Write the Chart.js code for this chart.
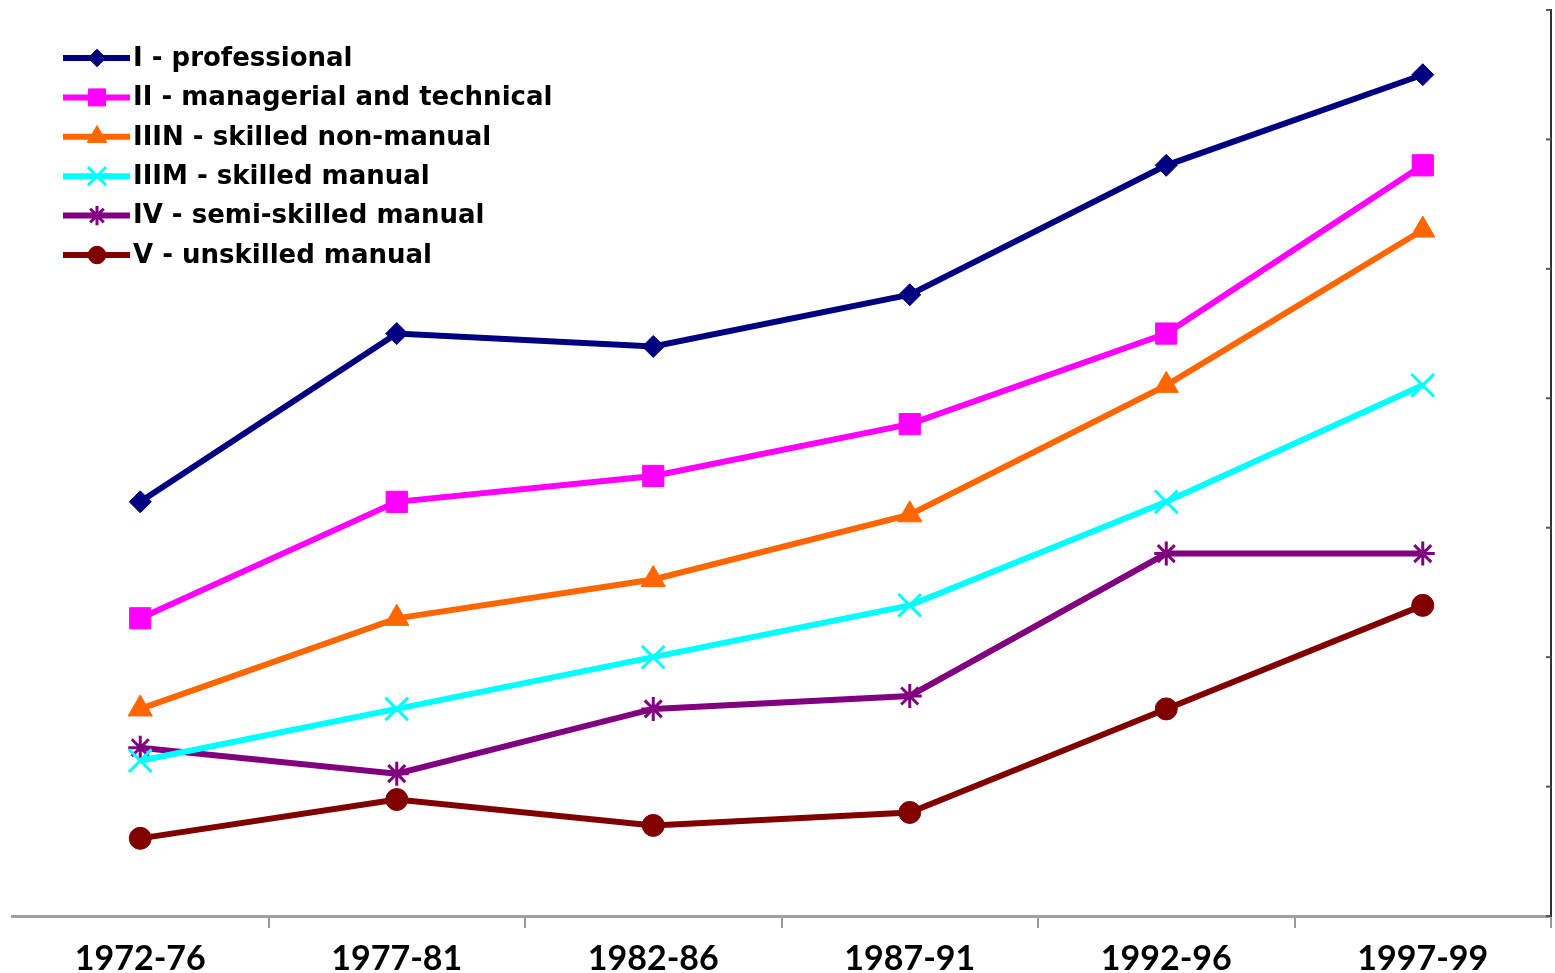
<!DOCTYPE html>
<html>
<head>
<meta charset="utf-8">
<script src="https://cdn.jsdelivr.net/npm/chart.js@4/dist/chart.umd.min.js"></script>
<style>
  body { margin: 0; background: #fff; }
  #wrap { width: 1555px; height: 973px; }
</style>
</head>
<body>
<div id="wrap"><canvas id="chart" width="1555" height="973"></canvas></div>
<script>
// periods on the x axis
const periods = ["1972-76", "1977-81", "1982-86", "1987-91", "1992-96", "1997-99"];

// series names
const classNames = [
  "I - professional",
  "II - managerial and technical",
  "IIIN - skilled non-manual",
  "IIIM - skilled manual",
  "IV - semi-skilled manual",
  "V - unskilled manual"
];

// values (axis has no labels, units = tick steps)
const professional = [3.2, 4.5, 4.4, 4.8, 5.8, 6.5];
const managerial   = [2.3, 3.2, 3.4, 3.8, 4.5, 5.8];
const skilledNonManual = [1.6, 2.3, 2.6, 3.1, 4.1, 5.3];
const skilledManual    = [1.2, 1.6, 2.0, 2.4, 3.2, 4.1];
const semiSkilled  = [1.3, 1.1, 1.6, 1.7, 2.8, 2.8];
const unskilled    = [0.6, 0.9, 0.7, 0.8, 1.6, 2.4];

const yTicks = [0, 1, 2, 3, 4, 5, 6, 7];

const seriesValues = [professional, managerial, skilledNonManual, skilledManual, semiSkilled, unskilled];
const colors = ["#000080", "#ff00ff", "#ff6600", "#00ffff", "#800080", "#800000"];
const styles = ["rectRot", "rect", "triangle", "crossRot", "star", "circle"];
const radii = [11, 15, 14, 16, 12, 11];

const datasets = seriesValues.map((vals, i) => ({
  label: classNames[i],
  data: vals,
  borderColor: colors[i],
  backgroundColor: colors[i],
  pointBackgroundColor: colors[i],
  pointBorderColor: colors[i],
  pointStyle: styles[i],
  pointRadius: radii[i],
  pointHoverRadius: radii[i],
  pointBorderWidth: (styles[i] === "crossRot" || styles[i] === "star") ? 3 : 1,
  borderWidth: 6,
  tension: 0,
  fill: false
}));

// legend drawn inside the plot: line + marker + text
const lineLegend = {
  id: "lineLegend",
  afterDraw(chart) {
    const { ctx, chartArea } = chart;
    ctx.save();
    chart.data.datasets.forEach((ds, i) => {
      const y = chartArea.top + 48 + i * 39.4;
      const x0 = chartArea.left + 51;
      ctx.strokeStyle = ds.borderColor;
      ctx.lineWidth = 6;
      ctx.beginPath();
      ctx.moveTo(x0, y);
      ctx.lineTo(x0 + 67, y);
      ctx.stroke();
      ctx.fillStyle = ds.borderColor;
      ctx.lineWidth = ds.pointBorderWidth;
      Chart.helpers.drawPoint(ctx, {
        pointStyle: ds.pointStyle,
        radius: ds.pointRadius * 0.8,
        borderWidth: ds.pointBorderWidth,
        rotation: 0
      }, x0 + 34, y);
      ctx.fillStyle = "#000";
      ctx.font = "bold 26px 'DejaVu Sans'";
      ctx.textBaseline = "middle";
      ctx.fillText(ds.label, x0 + 70, y + 1);
    });
    ctx.restore();
  }
};

// small tick marks pointing into the plot on the right axis
const innerTicks = {
  id: "innerTicks",
  afterDraw(chart) {
    const { ctx } = chart;
    const ys = chart.scales.y;
    ctx.save();
    ctx.strokeStyle = "#555";
    ctx.lineWidth = 2;
    yTicks.forEach(v => {
      const py = ys.getPixelForValue(v);
      ctx.beginPath();
      ctx.moveTo(ys.left - 5, py);
      ctx.lineTo(ys.left, py);
      ctx.stroke();
    });
    ctx.restore();
  }
};

new Chart(document.getElementById("chart"), {
  type: "line",
  data: { labels: periods, datasets: datasets },
  options: {
    responsive: false,
    devicePixelRatio: 1,
    animation: false,
    layout: { autoPadding: false, padding: { top: 10, right: 2, left: 12, bottom: 0 } },
    plugins: {
      legend: { display: false },
      tooltip: { enabled: false }
    },
    scales: {
      x: {
        offset: true,
        afterFit: s => { s.height = 57; },
        grid: {
          offset: true,
          drawOnChartArea: false,
          drawTicks: true,
          tickLength: 12,
          lineWidth: 2,
          color: c => c.index === 0 ? "rgba(0,0,0,0)" : "#999"
        },
        border: { display: true, color: "#a0a0a0", width: 3 },
        ticks: {
          color: "#000",
          padding: 14,
          font: { family: "Lato", weight: "bold", size: 34, lineHeight: 1 }
        }
      },
      y: {
        position: "right",
        min: 0,
        max: 7,
        afterFit: s => { s.width = 2; },
        afterBuildTicks: axis => { axis.ticks = yTicks.map(v => ({ value: v })); },
        grid: { drawOnChartArea: false, drawTicks: false },
        border: { display: true, color: "#333", width: 2 },
        ticks: { display: false }
      }
    }
  },
  plugins: [lineLegend, innerTicks]
});
</script>
</body>
</html>
